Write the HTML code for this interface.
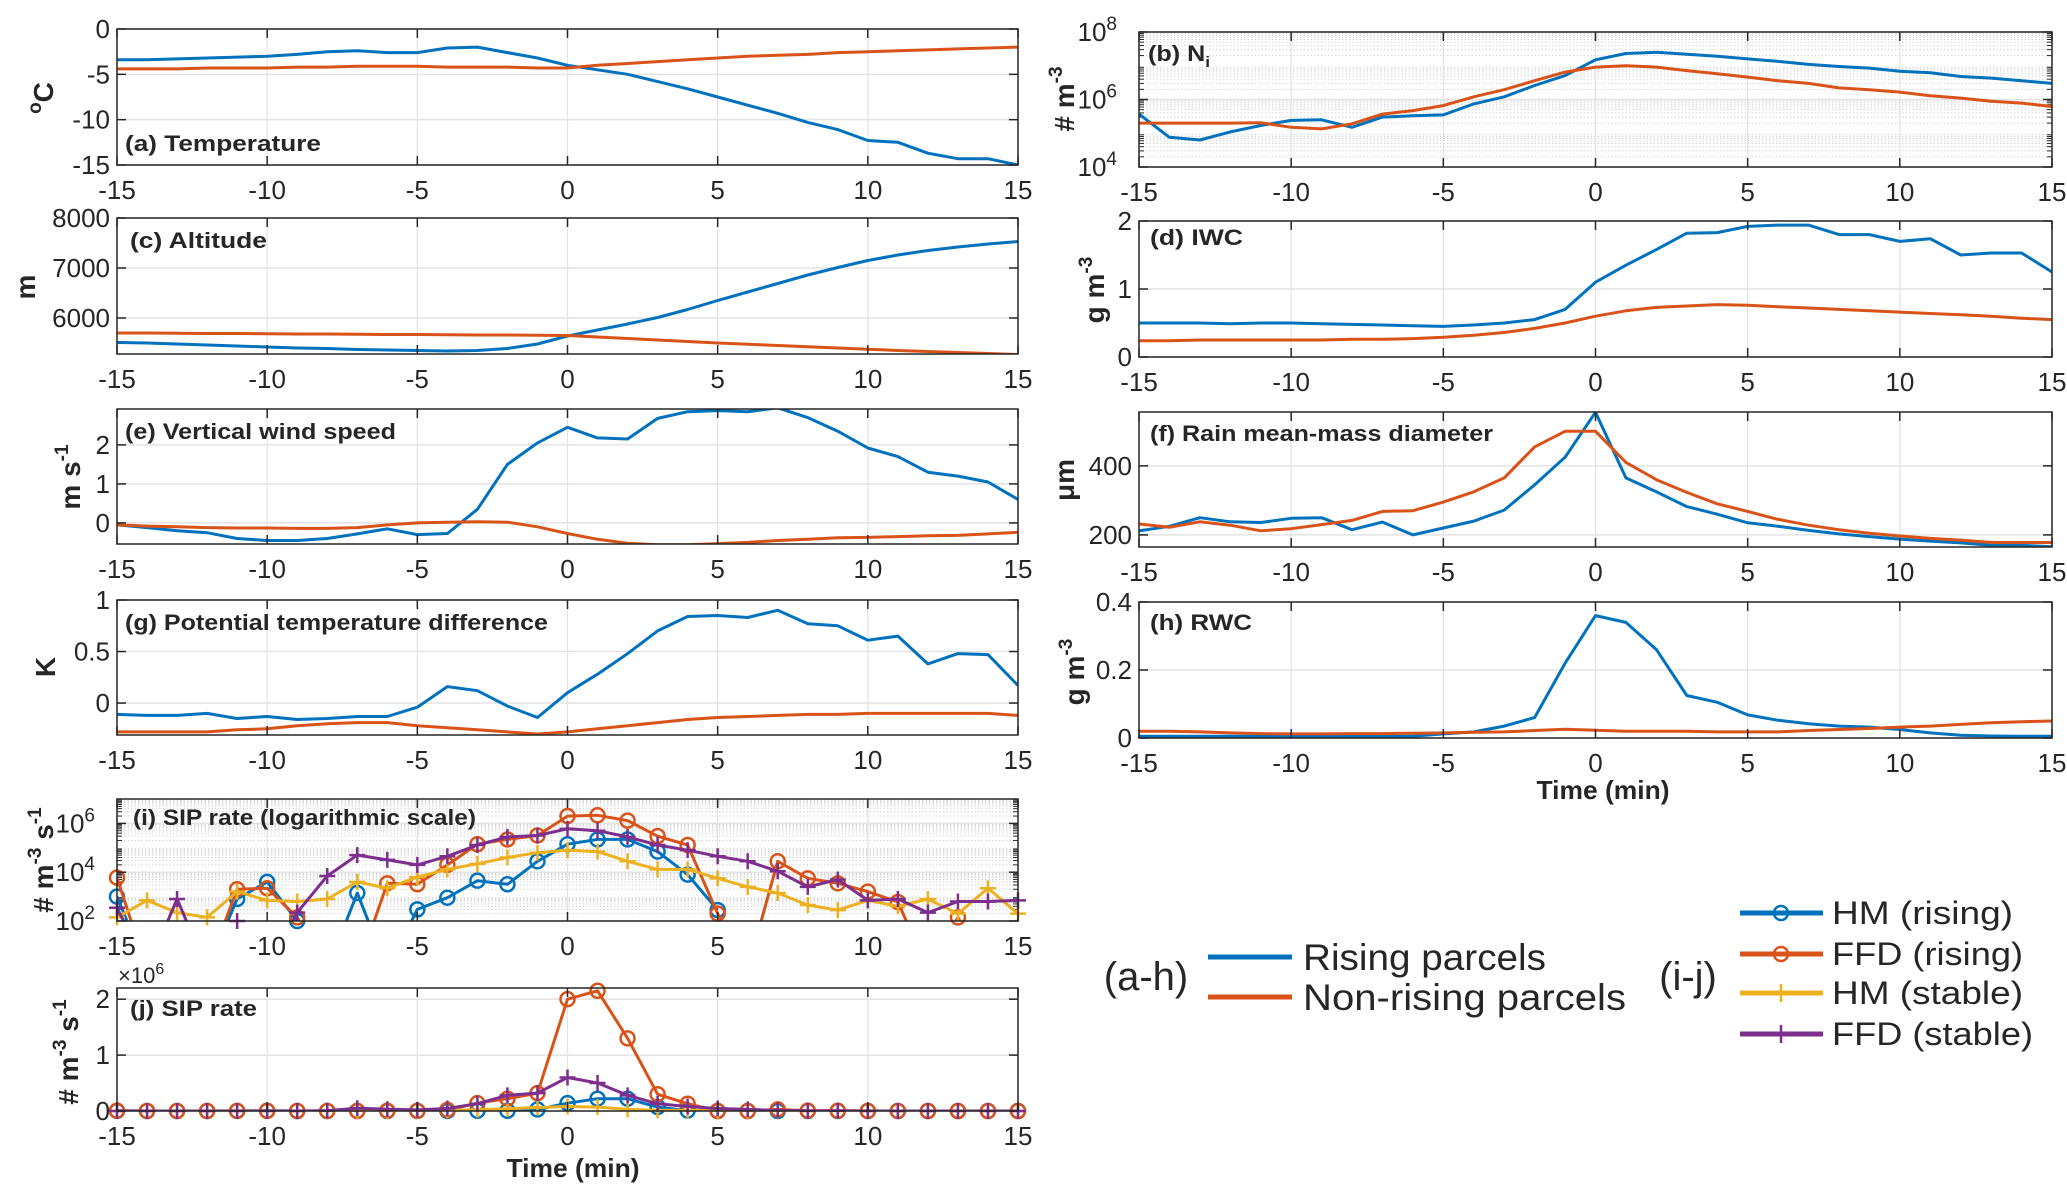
<!DOCTYPE html>
<html>
<head>
<meta charset="utf-8">
<style>
  html,body{margin:0;padding:0;background:#fff;}
  svg{display:block;}
  text{font-family:"Liberation Sans", sans-serif;fill:#262626;}
</style>
</head>
<body>
<svg id="fig" xmlns="http://www.w3.org/2000/svg" width="2067" height="1200" viewBox="0 0 2067 1200">
  <rect x="0" y="0" width="2067" height="1200" fill="#fff"/>
  <g id="panels"></g>

  <g>
    <text x="1146" y="990" font-size="40" text-anchor="middle" fill="#000">(a-h)</text>
    <line x1="1208" y1="957" x2="1292" y2="957" stroke="#0072BD" stroke-width="5"/>
    <text x="1303" y="970" font-size="37" textLength="243" lengthAdjust="spacingAndGlyphs" fill="#000">Rising parcels</text>
    <line x1="1208" y1="997" x2="1292" y2="997" stroke="#D95319" stroke-width="5"/>
    <text x="1303" y="1010" font-size="37" textLength="323" lengthAdjust="spacingAndGlyphs" fill="#000">Non-rising parcels</text>
  </g>
  <g>
    <text x="1688" y="990" font-size="40" text-anchor="middle" fill="#000">(i-j)</text>
    <line x1="1740" y1="913" x2="1823" y2="913" stroke="#0072BD" stroke-width="5"/>
    <circle cx="1781" cy="913" r="7" fill="none" stroke="#0072BD" stroke-width="2.5"/>
    <text x="1832" y="924" font-size="32" textLength="181" lengthAdjust="spacingAndGlyphs" fill="#000">HM (rising)</text>
    <line x1="1740" y1="954" x2="1823" y2="954" stroke="#D95319" stroke-width="5"/>
    <circle cx="1781" cy="954" r="7" fill="none" stroke="#D95319" stroke-width="2.5"/>
    <text x="1832" y="965" font-size="32" textLength="191" lengthAdjust="spacingAndGlyphs" fill="#000">FFD (rising)</text>
    <line x1="1740" y1="993" x2="1823" y2="993" stroke="#EDB120" stroke-width="5"/>
    <path d="M1781 984V1002M1772 993H1790" stroke="#EDB120" stroke-width="2.5"/>
    <text x="1832" y="1004" font-size="32" textLength="191" lengthAdjust="spacingAndGlyphs" fill="#000">HM (stable)</text>
    <line x1="1740" y1="1034" x2="1823" y2="1034" stroke="#7E2F8E" stroke-width="5"/>
    <path d="M1781 1025V1043M1772 1034H1790" stroke="#7E2F8E" stroke-width="2.5"/>
    <text x="1832" y="1045" font-size="32" textLength="201" lengthAdjust="spacingAndGlyphs" fill="#000">FFD (stable)</text>
  </g>
  <text x="573" y="1177" font-size="26" font-weight="bold" text-anchor="middle" textLength="133" lengthAdjust="spacingAndGlyphs" fill="#000">Time (min)</text>
  <text x="1603" y="799" font-size="26" font-weight="bold" text-anchor="middle" textLength="133" lengthAdjust="spacingAndGlyphs" fill="#000">Time (min)</text>
  <text x="118" y="983" font-size="22">×10<tspan font-size="16" dy="-9">6</tspan></text>
</svg>
<script>
// ---- data (time in minutes relative to event) ----
const timeMin = [-15,-14,-13,-12,-11,-10,-9,-8,-7,-6,-5,-4,-3,-2,-1,0,1,2,3,4,5,6,7,8,9,10,11,12,13,14,15];
const xTickLabels = [-15,-10,-5,0,5,10,15];

const tempRising = [-3.4,-3.4,-3.3,-3.2,-3.1,-3.0,-2.8,-2.5,-2.4,-2.6,-2.6,-2.1,-2.0,-2.6,-3.2,-4.0,-4.5,-5.0,-5.8,-6.6,-7.5,-8.4,-9.3,-10.3,-11.1,-12.3,-12.5,-13.7,-14.3,-14.3,-15.0];
const tempNonRising = [-4.4,-4.4,-4.4,-4.3,-4.3,-4.3,-4.2,-4.2,-4.1,-4.1,-4.1,-4.2,-4.2,-4.2,-4.3,-4.3,-4.0,-3.8,-3.6,-3.4,-3.2,-3.0,-2.9,-2.8,-2.6,-2.5,-2.4,-2.3,-2.2,-2.1,-2.0];

const altRising = [5510,5500,5480,5460,5440,5420,5400,5390,5370,5360,5350,5340,5350,5390,5480,5640,5760,5880,6010,6170,6350,6520,6690,6860,7010,7150,7260,7350,7420,7480,7530];
const altNonRising = [5700,5700,5695,5690,5690,5685,5680,5680,5675,5670,5670,5665,5660,5660,5655,5650,5620,5590,5560,5530,5500,5475,5450,5425,5400,5375,5350,5330,5310,5290,5270];

const wRising = [-0.05,-0.12,-0.2,-0.25,-0.4,-0.45,-0.45,-0.4,-0.28,-0.15,-0.3,-0.27,0.35,1.5,2.05,2.45,2.18,2.15,2.68,2.85,2.88,2.85,2.95,2.7,2.35,1.92,1.7,1.3,1.2,1.05,0.6];
const wNonRising = [-0.05,-0.08,-0.1,-0.12,-0.13,-0.13,-0.14,-0.14,-0.12,-0.05,0.0,0.02,0.03,0.02,-0.1,-0.27,-0.42,-0.52,-0.56,-0.56,-0.53,-0.5,-0.45,-0.42,-0.38,-0.37,-0.35,-0.33,-0.32,-0.28,-0.24];

const thetaRising = [-0.11,-0.12,-0.12,-0.1,-0.15,-0.13,-0.16,-0.15,-0.13,-0.13,-0.04,0.16,0.12,-0.03,-0.14,0.1,0.28,0.48,0.7,0.84,0.85,0.83,0.9,0.77,0.75,0.61,0.65,0.38,0.48,0.47,0.17];
const thetaNonRising = [-0.28,-0.28,-0.28,-0.28,-0.26,-0.25,-0.22,-0.2,-0.19,-0.19,-0.22,-0.24,-0.26,-0.28,-0.3,-0.28,-0.25,-0.22,-0.19,-0.16,-0.14,-0.13,-0.12,-0.11,-0.11,-0.1,-0.1,-0.1,-0.1,-0.1,-0.12];

const niRising = [3.7e5,7.6e4,6.3e4,1.1e5,1.7e5,2.4e5,2.5e5,1.5e5,3.0e5,3.3e5,3.5e5,7.4e5,1.2e6,2.6e6,5.1e6,1.5e7,2.3e7,2.5e7,2.2e7,1.9e7,1.6e7,1.35e7,1.1e7,9.5e6,8.5e6,6.9e6,6.2e6,4.8e6,4.3e6,3.6e6,3.0e6];
const niNonRising = [2e5,2e5,2e5,2e5,2.05e5,1.5e5,1.35e5,1.9e5,3.7e5,4.7e5,6.6e5,1.2e6,1.95e6,3.6e6,6.5e6,9.1e6,1.0e7,9.1e6,7.2e6,5.8e6,4.6e6,3.6e6,3.0e6,2.2e6,1.95e6,1.66e6,1.3e6,1.1e6,8.9e5,7.8e5,6.2e5];

const iwcRising = [0.5,0.5,0.5,0.49,0.5,0.5,0.49,0.48,0.47,0.46,0.45,0.47,0.5,0.55,0.7,1.1,1.35,1.58,1.82,1.83,1.92,1.94,1.94,1.8,1.8,1.7,1.74,1.5,1.53,1.53,1.25];
const iwcNonRising = [0.24,0.24,0.25,0.25,0.25,0.25,0.25,0.26,0.26,0.27,0.29,0.32,0.36,0.42,0.5,0.6,0.68,0.73,0.75,0.77,0.76,0.74,0.72,0.7,0.68,0.66,0.64,0.62,0.6,0.57,0.55];

const dmRising = [212,225,250,238,236,248,250,215,237,200,220,240,272,345,425,555,365,325,282,260,235,225,213,203,195,188,182,177,170,170,166];
const dmNonRising = [232,222,238,228,212,218,230,242,268,270,295,325,365,455,500,500,410,360,323,290,268,245,228,215,205,197,190,185,178,178,178];

const rwcRising = [0.005,0.005,0.005,0.005,0.005,0.005,0.005,0.005,0.005,0.005,0.012,0.018,0.035,0.06,0.22,0.36,0.34,0.26,0.125,0.105,0.068,0.052,0.042,0.035,0.032,0.025,0.015,0.008,0.006,0.005,0.005];
const rwcNonRising = [0.02,0.02,0.018,0.015,0.013,0.012,0.012,0.013,0.013,0.014,0.015,0.017,0.018,0.022,0.026,0.023,0.02,0.02,0.02,0.018,0.018,0.018,0.022,0.025,0.028,0.032,0.035,0.04,0.045,0.048,0.05];

const sipHMRising = [1e3,1,1,1,8e2,4e3,1e2,1,1.4e3,1,3e2,9e2,4.5e3,3.2e3,2.8e4,1.4e5,2.2e5,2.2e5,7e4,8e3,2.8e2,0,0,0,0,0,0,0,0,0,0];
const sipFFDRising = [6e3,1,1,1,2e3,2.2e3,1.4e2,1,1,3.5e3,3.2e3,2e4,1.4e5,2.2e5,3.2e5,2e6,2.15e6,1.3e6,3e5,1.3e5,2e2,1,2.8e4,5.6e3,3.5e3,1.6e3,6e2,1,1.4e2,1,1];
const sipHMStable = [1.4e2,7e2,2.2e2,1.4e2,1.6e3,7e2,6.3e2,8e2,4e3,2.2e3,6.3e3,1.3e4,2.2e4,4e4,6.3e4,8e4,7e4,2.8e4,1.3e4,1.3e4,5.6e3,2.5e3,1.4e3,4.5e2,2.8e2,7e2,4e2,8e2,2e2,2.2e3,2e2];
const sipFFDStable = [3.5e2,1,8e2,1,1e2,1,2.2e2,7e3,5e4,3.2e4,2e4,4.5e4,1.3e5,2.8e5,3.2e5,6e5,5e5,2.8e5,1.3e5,8e4,4.5e4,2.8e4,1.1e4,2.5e3,5e3,7e2,8e2,2.2e2,6.3e2,6.3e2,7e2];

// ---- drawing ----
const NS = 'http://www.w3.org/2000/svg';
const BLUE='#0072BD', ORANGE='#D95319', YELLOW='#EDB120', PURPLE='#7E2F8E';
const root = document.getElementById('panels');
function mk(tag, attrs, parent){
  const e = document.createElementNS(NS, tag);
  for (const k in attrs) e.setAttribute(k, attrs[k]);
  parent.appendChild(e);
  return e;
}
let clipId = 0;

function drawPanel(p){
  const g = mk('g', {}, root);
  
  
  const xs = t => p.x0 + (t - (-15)) / 30 * (p.x1 - p.x0);
  const tf = v => p.log ? Math.log10(v) : v;
  const lo = tf(p.ymin), hi = tf(p.ymax);
  const ys = v => p.y1 - (tf(v) - lo) / (hi - lo) * (p.y1 - p.y0);
  const W = p.x1 - p.x0, H = p.y1 - p.y0;

  // grid
  const grid = mk('g', {}, g);
  
  
  if (p.log){
    for (let d = Math.round(lo); d < Math.round(hi); d++){
      for (let m = 2; m <= 9; m++){
        const y = ys(m * Math.pow(10, d));
        mk('line', {x1:p.x0, x2:p.x1, y1:y, y2:y, stroke:'#d4d4d4', 'stroke-width':1, 'stroke-dasharray':'1.5 2'}, grid);
        mk('line', {x1:p.x0, x2:p.x0+5, y1:y, y2:y, stroke:'#262626', 'stroke-width':1}, grid);
        mk('line', {x1:p.x1, x2:p.x1-5, y1:y, y2:y, stroke:'#262626', 'stroke-width':1}, grid);
      }
    }
  }
  xTickLabels.forEach(t => {
    const x = xs(t);
    mk('line', {x1:x, x2:x, y1:p.y0, y2:p.y1, stroke:'#e3e3e3', 'stroke-width':1.2}, grid);
  });
  p.yticks.forEach(v => {
    const y = ys(v);
    mk('line', {x1:p.x0, x2:p.x1, y1:y, y2:y, stroke:'#e3e3e3', 'stroke-width':1.5}, grid);
  });

  // series
  const cid = 'clip' + (clipId++);
  const cp = mk('clipPath', {id:cid}, g);
  mk('rect', {x:p.x0, y:p.y0, width:W, height:H}, cp);
  p.series.forEach(s => {
    let d = '', pen = false;
    s.data.forEach((v, i) => {
      if (v === null || (p.log && v <= 0)) { pen = false; return; }
      d += (pen ? 'L' : 'M') + xs(timeMin[i]).toFixed(1) + ' ' + ys(v).toFixed(1);
      pen = true;
    });
    const path = mk('path', {d:d, fill:'none', stroke:s.color, 'stroke-width':3, 'stroke-linejoin':'round', 'clip-path':'url(#' + cid + ')'}, g);
    
    
    if (s.marker){
      const mg = mk('g', {}, g);
      
      
      s.data.forEach((v, i) => {
        if (v === null) return;
        if (p.log && (v < p.ymin || v > p.ymax)) return;
        const cx = xs(timeMin[i]), cy = ys(v);
        let mEl;
        if (s.marker === 'o') mEl = mk('circle', {cx:cx, cy:cy, r:7, fill:'none', stroke:s.color, 'stroke-width':2.5}, mg);
        else mEl = mk('path', {d:'M'+cx+' '+(cy-8)+'V'+(cy+8)+'M'+(cx-8)+' '+cy+'H'+(cx+8), stroke:s.color, 'stroke-width':2.5}, mg);
        
        
      });
    }
  });

  // box and ticks
  const box = mk('rect', {x:p.x0, y:p.y0, width:W, height:H, fill:'none', stroke:'#262626', 'stroke-width':1.5}, g);
  
  
  const xt = mk('g', {}, g);
  
  
  xTickLabels.forEach(t => {
    const x = xs(t);
    mk('line', {x1:x, x2:x, y1:p.y1, y2:p.y1-9, stroke:'#262626', 'stroke-width':1.5}, xt);
    mk('line', {x1:x, x2:x, y1:p.y0, y2:p.y0+9, stroke:'#262626', 'stroke-width':1.5}, xt);
    const tl = mk('text', {x:x, y:p.y1+34, 'font-size':26, 'text-anchor':'middle'}, xt);
    tl.textContent = String(t);
    
    
  });
  const yt = mk('g', {}, g);
  
  
  p.yticks.forEach((v, k) => {
    const y = ys(v);
    mk('line', {x1:p.x0, x2:p.x0+9, y1:y, y2:y, stroke:'#262626', 'stroke-width':1.5}, yt);
    mk('line', {x1:p.x1, x2:p.x1-9, y1:y, y2:y, stroke:'#262626', 'stroke-width':1.5}, yt);
    const tl = mk('text', {x:p.x0-7, y:y+9, 'font-size':26, 'text-anchor':'end'}, yt);
    
    
    if (p.log){
      const e = Math.round(Math.log10(v));
      tl.setAttribute('x', p.x0 - 22);
      tl.textContent = '10';
      const sup = mk('tspan', {'font-size':19, dy:-11}, tl);
      sup.textContent = String(e);
    } else {
      tl.textContent = p.ylabels[k];
    }
  });

  // title
  const tt = mk('text', {x:p.tx, y:p.ty+8, 'font-size':22, 'font-weight':'bold', fill:'#000', textLength:p.tlen, lengthAdjust:'spacingAndGlyphs'}, g);
  
  
  tt.textContent = p.title;
  if (p.titleSub){
    const sb = mk('tspan', {'font-size':15, dy:6}, tt);
    sb.textContent = p.titleSub;
  }

  // y label
  const yl = mk('text', {transform:'translate(' + (p.lx+10) + ',' + p.ly + ') rotate(-90)', 'font-size':28, 'font-weight':'bold', 'text-anchor':'middle', fill:'#000'}, g);
  
  
  p.ylab.forEach(part => {
    const ts = mk('tspan', {}, yl);
    if (part[1] === 'sup'){ ts.setAttribute('font-size', 19); ts.setAttribute('dy', -12); }
    else if (part[1] === 'back'){ ts.setAttribute('dy', 12); }
    ts.textContent = part[0];
  });
}

const L0 = 117, L1 = 1018, R0 = 1139, R1 = 2052;
const panels = [
  {key:'a-temperature', x0:L0,x1:L1,y0:29,y1:165, ymin:-15,ymax:0, yticks:[-15,-10,-5,0], ylabels:['-15','-10','-5','0'],
   title:'(a)  Temperature', tx:125, ty:143, tlen:196, lx:43, ly:98, ylab:[['o','sup'],['C','back']],
   series:[{name:'rising', data:tempRising, color:BLUE},{name:'non-rising', data:tempNonRising, color:ORANGE}]},
  {key:'c-altitude', x0:L0,x1:L1,y0:218,y1:354, ymin:5280,ymax:8000, yticks:[6000,7000,8000], ylabels:['6000','7000','8000'],
   title:'(c)  Altitude', tx:130, ty:240, tlen:137, lx:25, ly:287, ylab:[['m','n']],
   series:[{name:'rising', data:altRising, color:BLUE},{name:'non-rising', data:altNonRising, color:ORANGE}]},
  {key:'e-vertical-wind', x0:L0,x1:L1,y0:409,y1:544, ymin:-0.54,ymax:2.92, yticks:[0,1,2], ylabels:['0','1','2'],
   title:'(e)  Vertical wind speed', tx:125, ty:431, tlen:271, lx:70, ly:477, ylab:[['m s','n'],['-1','sup']],
   series:[{name:'rising', data:wRising, color:BLUE},{name:'non-rising', data:wNonRising, color:ORANGE}]},
  {key:'g-potential-temperature', x0:L0,x1:L1,y0:600,y1:735, ymin:-0.31,ymax:1, yticks:[0,0.5,1], ylabels:['0','0.5','1'],
   title:'(g)  Potential temperature difference', tx:125, ty:622, tlen:423, lx:45, ly:667, ylab:[['K','n']],
   series:[{name:'rising', data:thetaRising, color:BLUE},{name:'non-rising', data:thetaNonRising, color:ORANGE}]},
  {key:'i-sip-log', x0:L0,x1:L1,y0:799,y1:921, log:true, ymin:1e2,ymax:1e7, yticks:[1e2,1e4,1e6],
   title:'(i)  SIP rate (logarithmic scale)', tx:133, ty:817, tlen:343, lx:43, ly:860, ylab:[['# m','n'],['-3','sup'],[' s','back'],['-1','sup']],
   series:[{name:'hm-rising', data:sipHMRising, color:BLUE, marker:'o'},{name:'ffd-rising', data:sipFFDRising, color:ORANGE, marker:'o'},
           {name:'hm-stable', data:sipHMStable, color:YELLOW, marker:'+'},{name:'ffd-stable', data:sipFFDStable, color:PURPLE, marker:'+'}]},
  {key:'j-sip-linear', x0:L0,x1:L1,y0:988,y1:1111, ymin:0,ymax:2.2e6, yticks:[0,1e6,2e6], ylabels:['0','1','2'],
   title:'(j)  SIP rate', tx:130, ty:1008, tlen:127, lx:68, ly:1052, ylab:[['# m','n'],['-3','sup'],[' s','back'],['-1','sup']],
   series:[{name:'hm-rising', data:sipHMRising, color:BLUE, marker:'o'},{name:'ffd-rising', data:sipFFDRising, color:ORANGE, marker:'o'},
           {name:'hm-stable', data:sipHMStable, color:YELLOW, marker:'+'},{name:'ffd-stable', data:sipFFDStable, color:PURPLE, marker:'+'}]},
  {key:'b-ice-number', x0:R0,x1:R1,y0:32,y1:167, log:true, ymin:1e4,ymax:1e8, yticks:[1e4,1e6,1e8],
   title:'(b)  N', titleSub:'i', tx:1148, ty:53, tlen:62, lx:1064, ly:99, ylab:[['# m','n'],['-3','sup']],
   series:[{name:'rising', data:niRising, color:BLUE},{name:'non-rising', data:niNonRising, color:ORANGE}]},
  {key:'d-iwc', x0:R0,x1:R1,y0:221,y1:357, ymin:0,ymax:2, yticks:[0,1,2], ylabels:['0','1','2'],
   title:'(d)  IWC', tx:1150, ty:237, tlen:93, lx:1094, ly:290, ylab:[['g m','n'],['-3','sup']],
   series:[{name:'rising', data:iwcRising, color:BLUE},{name:'non-rising', data:iwcNonRising, color:ORANGE}]},
  {key:'f-rain-diameter', x0:R0,x1:R1,y0:412,y1:547, ymin:165,ymax:556, yticks:[200,400], ylabels:['200','400'],
   title:'(f)  Rain mean-mass diameter', tx:1150, ty:433, tlen:343, lx:1064, ly:480, ylab:[['\u03bcm','n']],
   series:[{name:'rising', data:dmRising, color:BLUE},{name:'non-rising', data:dmNonRising, color:ORANGE}]},
  {key:'h-rwc', x0:R0,x1:R1,y0:602,y1:738, ymin:0,ymax:0.4, yticks:[0,0.2,0.4], ylabels:['0','0.2','0.4'],
   title:'(h)  RWC', tx:1150, ty:622, tlen:102, lx:1074, ly:672, ylab:[['g m','n'],['-3','sup']],
   series:[{name:'rising', data:rwcRising, color:BLUE},{name:'non-rising', data:rwcNonRising, color:ORANGE}]}
];
panels.forEach(drawPanel);
</script>
</body>
</html>
